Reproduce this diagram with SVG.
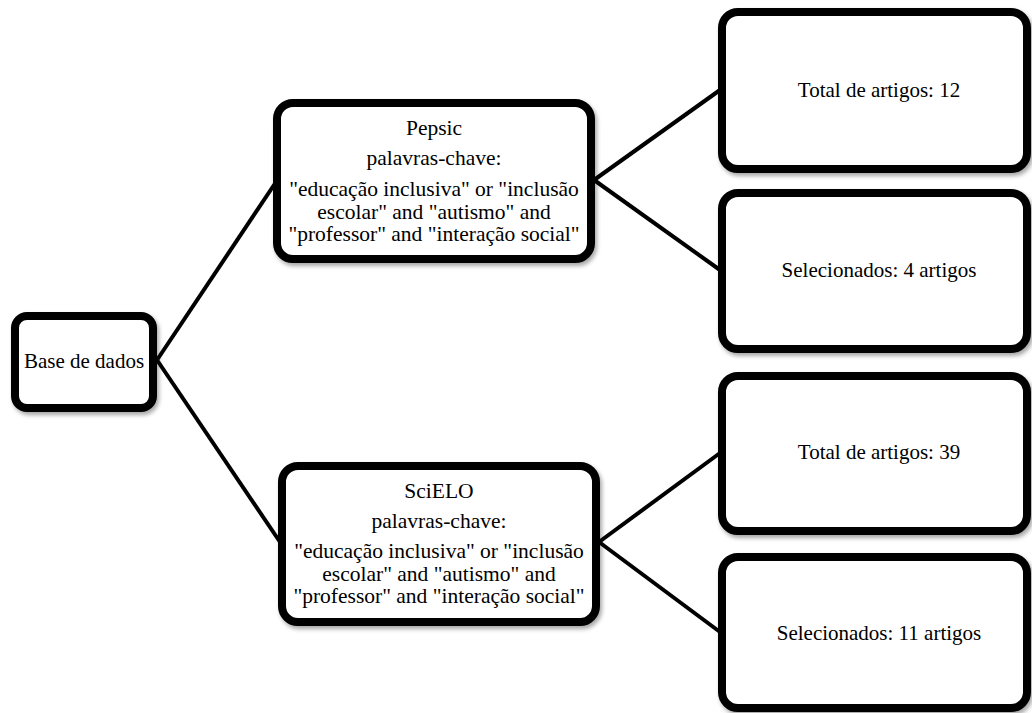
<svg xmlns="http://www.w3.org/2000/svg" width="1032" height="713" viewBox="0 0 1032 713">
<defs>
<filter id="sh" x="-10%" y="-10%" width="125%" height="130%">
<feDropShadow dx="2" dy="3" stdDeviation="2" flood-color="#000" flood-opacity="0.35"/>
</filter>
</defs>
<style>
.box{fill:#fff;stroke:#000;stroke-width:8;filter:url(#sh)}
.ln{stroke:#000;stroke-width:4;fill:none}
text{font-family:"Liberation Serif","Times New Roman",serif;font-size:21px;fill:#000;text-anchor:middle}
.m{font-size:21.5px}
</style>
<rect width="1032" height="713" fill="#fff"/>
<g id="connectors">
<line class="ln" x1="157" y1="360" x2="276" y2="182"/>
<line class="ln" x1="157" y1="360" x2="280" y2="542"/>
<line class="ln" x1="594" y1="180" x2="720" y2="90"/>
<line class="ln" x1="594" y1="180" x2="720" y2="270"/>
<line class="ln" x1="599" y1="542" x2="720" y2="453"/>
<line class="ln" x1="599" y1="542" x2="720" y2="632"/>
</g>
<g id="base">
<rect class="box" x="15" y="316" width="138" height="92" rx="12"/>
<text x="84" y="368">Base de dados</text>
</g>
<g id="pepsic">
<rect class="box" x="277" y="103" width="314" height="156" rx="16"/>
<text class="m" x="434" y="135">Pepsic</text>
<text class="m" x="434" y="165">palavras-chave:</text>
<text class="m" x="434" y="196">"educação inclusiva" or "inclusão</text>
<text class="m" x="434" y="218.5">escolar" and "autismo" and</text>
<text class="m" x="434" y="241">"professor" and "interação social"</text>
</g>
<g id="scielo">
<rect class="box" x="282" y="466" width="314" height="156" rx="16"/>
<text class="m" x="439" y="498">SciELO</text>
<text class="m" x="439" y="528">palavras-chave:</text>
<text class="m" x="439" y="558">"educação inclusiva" or "inclusão</text>
<text class="m" x="439" y="580.5">escolar" and "autismo" and</text>
<text class="m" x="439" y="603">"professor" and "interação social"</text>
</g>
<g id="total12">
<rect class="box" x="722" y="12" width="305" height="157" rx="16"/>
<text x="879" y="97">Total de artigos: 12</text>
</g>
<g id="sel4">
<rect class="box" x="722" y="193" width="305" height="156" rx="16"/>
<text x="879" y="277">Selecionados: 4 artigos</text>
</g>
<g id="total39">
<rect class="box" x="722" y="376" width="305" height="155" rx="16"/>
<text x="879" y="459">Total de artigos: 39</text>
</g>
<g id="sel11">
<rect class="box" x="722" y="557" width="305" height="151" rx="16"/>
<text x="879" y="640">Selecionados: 11 artigos</text>
</g>
</svg>
